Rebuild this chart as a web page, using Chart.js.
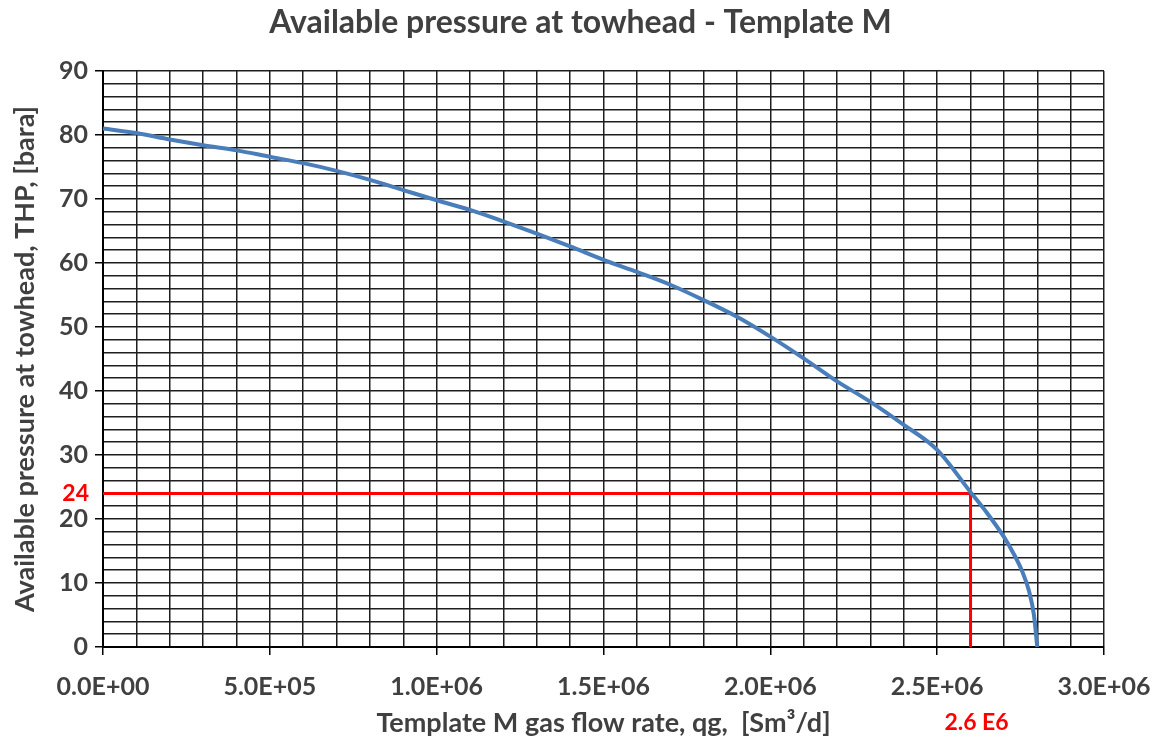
<!DOCTYPE html>
<html>
<head>
<meta charset="utf-8">
<script src="https://cdn.jsdelivr.net/npm/chart.js@4/dist/chart.umd.min.js"></script>
<style>
  html, body { margin: 0; padding: 0; background: #fff; }
  #wrap { width: 1161px; height: 742px; }
</style>
</head>
<body>
<div id="wrap"><canvas id="c"></canvas></div>
<script>
// curve: gas rate [Sm3/d] vs towhead pressure [bara]
const flowRate = [0, 1e5, 2e5, 3e5, 4e5, 5e5, 6e5, 7e5, 8e5, 9e5,
                  1.0e6, 1.1e6, 1.2e6, 1.3e6, 1.4e6, 1.5e6, 1.6e6, 1.7e6, 1.8e6, 1.9e6,
                  2.0e6, 2.1e6, 2.2e6, 2.3e6, 2.4e6, 2.5e6, 2.6e6, 2.65e6, 2.7e6, 2.73e6,
                  2.755e6, 2.775e6, 2.79e6, 2.8e6];
const pressure = [81.0, 80.3, 79.3, 78.4, 77.6, 76.6, 75.6, 74.4, 73.0, 71.4,
                  69.8, 68.3, 66.5, 64.6, 62.6, 60.5, 58.6, 56.6, 54.2, 51.6,
                  48.5, 45.1, 41.5, 38.3, 34.7, 30.8, 24.2, 20.9, 17.2, 14.5,
                  11.8, 8.8, 5.0, 0];

// operating point marked in red
const opRate = 2.6e6;
const opPressure = 24;
const opRateLabel = '2.6 E6';
const opPressureLabel = '24';

const textGrey = '#404040';
const gridBlack = '#1e1e1e';

// 5.0E+05 style labels like the spreadsheet
function sciLabel(v) {
  if (v === 0) return '0.0E+00';
  const e = Math.floor(Math.log10(v) + 1e-9);
  const m = v / Math.pow(10, e);
  return m.toFixed(1) + 'E+' + String(e).padStart(2, '0');
}

// red labels next to the axes
const redLabels = {
  id: 'redLabels',
  afterDraw(chart) {
    const ctx = chart.ctx;
    const xs = chart.scales.x, ys = chart.scales.y;
    ctx.save();
    ctx.fillStyle = '#ff0000';
    ctx.font = 'bold 23px Lato';
    ctx.textBaseline = 'middle';
    ctx.textAlign = 'right';
    ctx.fillText(opPressureLabel, xs.left - 14, ys.getPixelForValue(opPressure));
    ctx.textAlign = 'center';
    ctx.fillText(opRateLabel, xs.getPixelForValue(opRate) + 6, 723);
    ctx.restore();
  }
};

const points = flowRate.map((q, i) => ({ x: q, y: pressure[i] }));

new Chart(document.getElementById('c'), {
  type: 'scatter',
  data: {
    datasets: [
      {
        data: points,
        showLine: true,
        borderColor: '#4a7ebb',
        borderWidth: 4,
        pointRadius: 0,
        cubicInterpolationMode: 'monotone',
        clip: false
      },
      {
        data: [{ x: 0, y: opPressure }, { x: opRate, y: opPressure }],
        showLine: true,
        borderColor: '#ff0000',
        borderWidth: 3,
        pointRadius: 0
      },
      {
        data: [{ x: opRate, y: 0 }, { x: opRate, y: opPressure }],
        showLine: true,
        borderColor: '#ff0000',
        borderWidth: 3,
        pointRadius: 0
      }
    ]
  },
  options: {
    responsive: true,
    maintainAspectRatio: false,
    animation: false,
    layout: { padding: 0 },
    plugins: {
      legend: { display: false },
      tooltip: { enabled: false },
      title: {
        display: true,
        text: 'Available pressure at towhead - Template M',
        color: textGrey,
        font: { family: 'Lato', size: 32, weight: 'bold' },
        padding: { top: 3, bottom: 29.6 }
      }
    },
    scales: {
      x: {
        type: 'linear',
        min: 0,
        max: 3e6,
        afterFit(scale) {
          scale.height = 95;
          scale.paddingLeft = 0;
          scale.paddingRight = 0;
        },
        afterBuildTicks(scale) {
          scale.ticks = [];
          for (let i = 0; i <= 30; i++) scale.ticks.push({ value: i * 1e5 });
        },
        ticks: {
          color: textGrey,
          font: { family: 'Lato', size: 25, weight: 'bold' },
          padding: 17,
          maxRotation: 0,
          autoSkip: false,
          callback(v) {
            return Math.round(v / 1e5) % 5 === 0 ? sciLabel(v) : '';
          }
        },
        grid: {
          color: gridBlack,
          lineWidth: 1.5,
          tickLength: 8,
          tickColor(ctx) {
            return ctx.tick && Math.round(ctx.tick.value / 1e5) % 5 === 0 ? '#000' : 'rgba(0,0,0,0)';
          }
        },
        border: { color: '#000', width: 2 },
        title: {
          display: true,
          text: 'Template M gas flow rate, qg,  [Sm\u00b3/d]',
          color: textGrey,
          font: { family: 'Lato', size: 27, weight: 'bold' },
          padding: { top: 0, bottom: 3 }
        }
      },
      y: {
        type: 'linear',
        min: 0,
        max: 90,
        afterFit(scale) { scale.width = 103; },
        afterBuildTicks(scale) {
          scale.ticks = [];
          for (let v = 0; v <= 90; v += 2) scale.ticks.push({ value: v });
        },
        ticks: {
          color: textGrey,
          font: { family: 'Lato', size: 25, weight: 'bold' },
          padding: 7,
          autoSkip: false,
          callback(v) { return v % 10 === 0 ? String(v) : ''; }
        },
        grid: {
          color: gridBlack,
          lineWidth: 1.5,
          tickLength: 8,
          tickColor(ctx) {
            return ctx.tick && ctx.tick.value % 10 === 0 ? '#000' : 'rgba(0,0,0,0)';
          }
        },
        border: { color: '#000', width: 2 },
        title: {
          display: true,
          text: 'Available pressure at towhead, THP, [bara]',
          color: textGrey,
          font: { family: 'Lato', size: 27, weight: 'bold' },
          padding: { top: 9, bottom: 0 }
        }
      },
      // empty right-hand strip so the plot ends where the reference does
      spacer: {
        type: 'linear',
        position: 'right',
        min: 0,
        max: 1,
        afterFit(scale) { scale.width = 57; },
        ticks: { display: false },
        grid: { display: false, drawTicks: false },
        border: { display: false }
      }
    }
  },
  plugins: [redLabels]
});
</script>
</body>
</html>
